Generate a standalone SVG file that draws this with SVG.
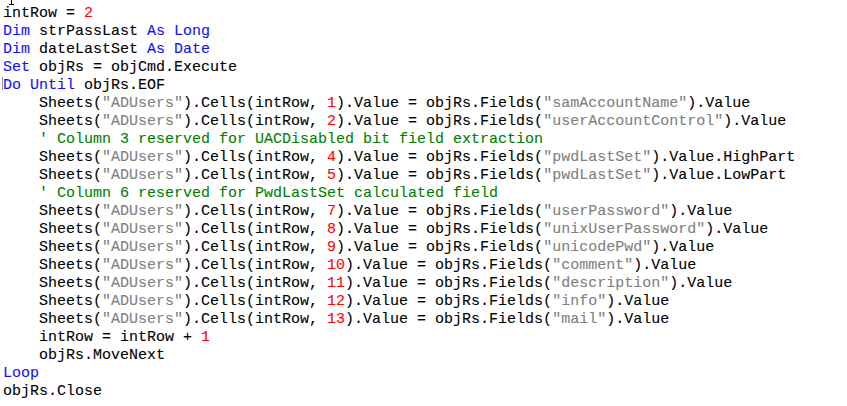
<svg xmlns="http://www.w3.org/2000/svg" width="847" height="406" viewBox="0 0 847 406">
<style>
text{font-family:"Liberation Mono","Courier New",monospace;font-size:15px;fill:#000;white-space:pre;stroke:#000;stroke-width:0.1}
.k{fill:#1010ff;stroke:#1010ff}
.n{fill:#ff0000;stroke:#ff0000}
.s{fill:#808080;stroke:#808080}
.c{fill:#008000;stroke:#008000}
</style>
<rect width="847" height="406" fill="#ffffff"/>
<g id="marks" stroke="#000" stroke-width="1">
<line x1="11.5" y1="0" x2="11.5" y2="4"/>
<line x1="9" y1="4.5" x2="14" y2="4.5"/>
<line x1="2.5" y1="77" x2="2.5" y2="90" stroke="#999"/>
</g>
<g id="code" xml:space="preserve">
<text x="3" y="17">intRow = <tspan class="n">2</tspan></text>
<text x="3" y="35"><tspan class="k">Dim</tspan> strPassLast <tspan class="k">As</tspan> <tspan class="k">Long</tspan></text>
<text x="3" y="53"><tspan class="k">Dim</tspan> dateLastSet <tspan class="k">As</tspan> <tspan class="k">Date</tspan></text>
<text x="3" y="71"><tspan class="k">Set</tspan> objRs = objCmd.Execute</text>
<text x="3" y="89"><tspan class="k">Do Until</tspan> objRs.EOF</text>
<text x="39" y="107">Sheets(<tspan class="s">"ADUsers"</tspan>).Cells(intRow, <tspan class="n">1</tspan>).Value = objRs.Fields(<tspan class="s">"samAccountName"</tspan>).Value</text>
<text x="39" y="125">Sheets(<tspan class="s">"ADUsers"</tspan>).Cells(intRow, <tspan class="n">2</tspan>).Value = objRs.Fields(<tspan class="s">"userAccountControl"</tspan>).Value</text>
<text x="39" y="143" class="c">' Column 3 reserved for UACDisabled bit field extraction</text>
<text x="39" y="161">Sheets(<tspan class="s">"ADUsers"</tspan>).Cells(intRow, <tspan class="n">4</tspan>).Value = objRs.Fields(<tspan class="s">"pwdLastSet"</tspan>).Value.HighPart</text>
<text x="39" y="179">Sheets(<tspan class="s">"ADUsers"</tspan>).Cells(intRow, <tspan class="n">5</tspan>).Value = objRs.Fields(<tspan class="s">"pwdLastSet"</tspan>).Value.LowPart</text>
<text x="39" y="197" class="c">' Column 6 reserved for PwdLastSet calculated field</text>
<text x="39" y="215">Sheets(<tspan class="s">"ADUsers"</tspan>).Cells(intRow, <tspan class="n">7</tspan>).Value = objRs.Fields(<tspan class="s">"userPassword"</tspan>).Value</text>
<text x="39" y="233">Sheets(<tspan class="s">"ADUsers"</tspan>).Cells(intRow, <tspan class="n">8</tspan>).Value = objRs.Fields(<tspan class="s">"unixUserPassword"</tspan>).Value</text>
<text x="39" y="251">Sheets(<tspan class="s">"ADUsers"</tspan>).Cells(intRow, <tspan class="n">9</tspan>).Value = objRs.Fields(<tspan class="s">"unicodePwd"</tspan>).Value</text>
<text x="39" y="269">Sheets(<tspan class="s">"ADUsers"</tspan>).Cells(intRow, <tspan class="n">10</tspan>).Value = objRs.Fields(<tspan class="s">"comment"</tspan>).Value</text>
<text x="39" y="287">Sheets(<tspan class="s">"ADUsers"</tspan>).Cells(intRow, <tspan class="n">11</tspan>).Value = objRs.Fields(<tspan class="s">"description"</tspan>).Value</text>
<text x="39" y="305">Sheets(<tspan class="s">"ADUsers"</tspan>).Cells(intRow, <tspan class="n">12</tspan>).Value = objRs.Fields(<tspan class="s">"info"</tspan>).Value</text>
<text x="39" y="323">Sheets(<tspan class="s">"ADUsers"</tspan>).Cells(intRow, <tspan class="n">13</tspan>).Value = objRs.Fields(<tspan class="s">"mail"</tspan>).Value</text>
<text x="39" y="341">intRow = intRow + <tspan class="n">1</tspan></text>
<text x="39" y="359">objRs.MoveNext</text>
<text x="3" y="377" class="k">Loop</text>
<text x="3" y="395">objRs.Close</text>
</g>
</svg>
